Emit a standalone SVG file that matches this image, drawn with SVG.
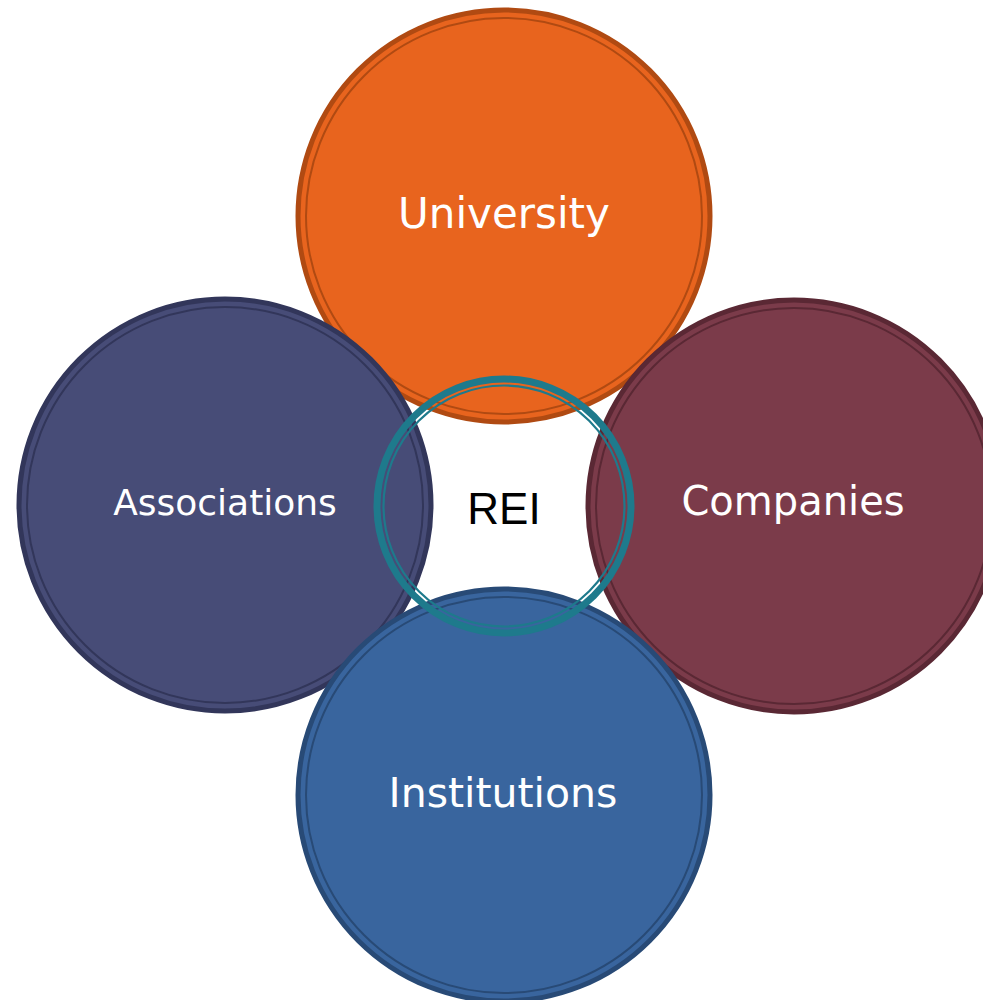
<svg xmlns="http://www.w3.org/2000/svg" width="983" height="1000" viewBox="0 0 983 1000">
<style>
.lbl{font-family:"DejaVu Sans",Verdana,sans-serif;fill:#ffffff;text-anchor:middle}
.rei{font-family:"Liberation Sans",Arial,sans-serif;fill:#000000;text-anchor:middle;font-size:44px}
.inner{fill:none;stroke-width:2}
</style>
<rect width="983" height="1000" fill="#ffffff"/>
<g id="university">
<circle cx="504" cy="216" r="206" fill="#E8641E" stroke="#B04A12" stroke-width="5"/>
<circle class="inner" cx="504" cy="216" r="198" stroke="#B04A12"/>
<text class="lbl" x="504" y="228" font-size="42">University</text>
</g>
<g id="associations">
<circle cx="225" cy="505" r="206" fill="#474C77" stroke="#32365A" stroke-width="5"/>
<circle class="inner" cx="225" cy="505" r="198" stroke="#32365A"/>
<text class="lbl" x="225" y="515" font-size="36">Associations</text>
</g>
<g id="companies">
<circle cx="794" cy="506" r="206" fill="#7B3B4A" stroke="#5A2834" stroke-width="5"/>
<circle class="inner" cx="794" cy="506" r="198" stroke="#5A2834"/>
<text class="lbl" x="793" y="515" font-size="40">Companies</text>
</g>
<g id="institutions">
<circle cx="504" cy="795" r="206" fill="#39659E" stroke="#284A76" stroke-width="5"/>
<circle class="inner" cx="504" cy="795" r="198" stroke="#284A76"/>
<text class="lbl" x="503" y="807" font-size="41">Institutions</text>
</g>
<g id="rei">
<circle cx="504" cy="506" r="127" fill="none" stroke="#1E7A8C" stroke-width="7"/>
<circle cx="504" cy="506" r="120.5" fill="none" stroke="#1E7A8C" stroke-width="2.2"/>
<text class="rei" x="504" y="524">REI</text>
</g>
<g id="connectors"></g>
</svg>
